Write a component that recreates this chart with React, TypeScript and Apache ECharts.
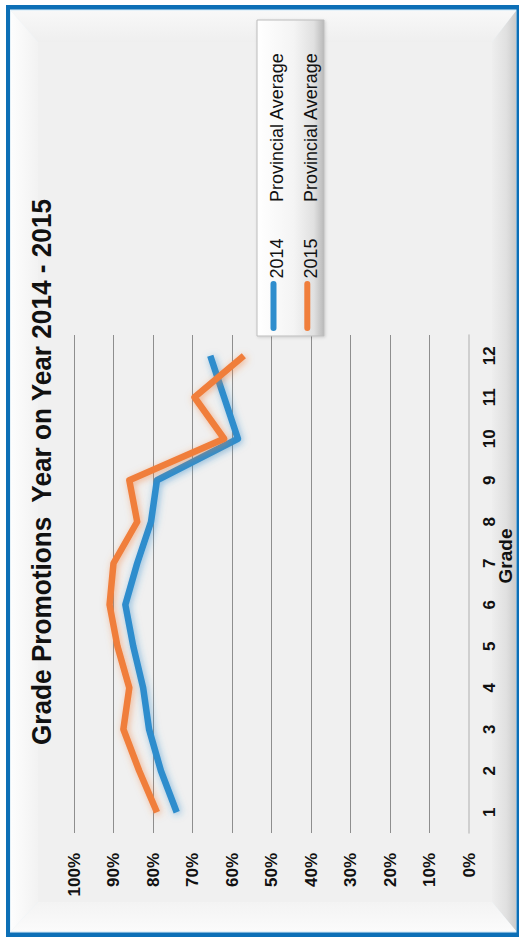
import React, { useEffect, useRef } from "react";
import * as echarts from "echarts";

// Grade categories and promotion rates (%) per year
const grades = ["1", "2", "3", "4", "5", "6", "7", "8", "9", "10", "11", "12"];
const promo2014 = [74, 78, 81, 82.5, 85, 87, 84, 80.5, 79, 58.5, 62, 65.5];
const promo2015 = [79, 83.5, 87.5, 86, 89, 91, 90, 84, 86, 62, 69.5, 57];
const seriesYears = ["2014", "2015"];
const seriesSuffix = "Provincial Average";
const titleText = "Grade Promotions  Year on Year 2014 - 2015";
const categoryAxisName = "Grade";
const percentMin = 0;
const percentMax = 100;
const percentStep = 10;

const W = 519;
const H = 944;
const FONT = "'Liberation Sans', Arial, Helvetica, sans-serif";
const BLUE = "#2e8dcd";
const ORANGE = "#f07e3b";
const UP = Math.PI / 2; // text reading bottom-to-top

const lin = (x2: number, y2: number, stops: [number, string][]) => ({
  type: "linear",
  x: 0,
  y: 0,
  x2,
  y2,
  colorStops: stops.map(([offset, color]) => ({ offset, color })),
});

function frameGraphics() {
  const o = { l: 11, t: 11, r: 516, b: 931 };
  const i = { l: 38, t: 42, r: 492, b: 902 };
  const z = -10;
  return [
    { type: "rect", z, shape: { x: 6, y: 5, width: 520, height: 932 }, style: { fill: "#0d6fb6" } },
    { type: "rect", z, shape: { x: 10, y: 9.5, width: 506.5, height: 923 }, style: { fill: "#e4f1f9" } },
    {
      type: "polygon", z,
      shape: { points: [[o.l, o.t], [o.r, o.t], [i.r, i.t], [i.l, i.t]] },
      style: { fill: lin(0, 1, [[0, "#f8f8f8"], [1, "#efefef"]]) },
    },
    {
      type: "polygon", z,
      shape: { points: [[o.l, o.t], [i.l, i.t], [i.l, i.b], [o.l, o.b]] },
      style: { fill: lin(1, 0, [[0, "#fdfdfd"], [1, "#f2f2f2"]]) },
    },
    {
      type: "polygon", z,
      shape: { points: [[o.r, o.t], [o.r, o.b], [i.r, i.b], [i.r, i.t]] },
      style: { fill: lin(1, 0, [[0, "#eeeeee"], [0.6, "#e0e0e0"], [1, "#cbcbcb"]]) },
    },
    {
      type: "polygon", z,
      shape: { points: [[o.l, o.b], [i.l, i.b], [i.r, i.b], [o.r, o.b]] },
      style: { fill: lin(0, 1, [[0, "#f3f3f3"], [1, "#fbfbfb"]]) },
    },
    { type: "rect", z, shape: { x: i.l, y: i.t, width: i.r - i.l, height: i.b - i.t }, style: { fill: "#f0f0f0" } },
  ];
}

function legendGraphics() {
  const colors = [BLUE, ORANGE];
  const cols = [273.5, 307.3];
  const items: any[] = [
    {
      type: "rect", z: 5,
      shape: { x: 257, y: 20, width: 67, height: 316 },
      style: {
        fill: lin(1, 0, [[0, "#ffffff"], [0.55, "#f4f4f4"], [0.85, "#e0e0e0"], [1, "#b9b9b9"]]),
        stroke: "#bcbcbc",
        lineWidth: 1,
        shadowBlur: 3,
        shadowColor: "rgba(0,0,0,0.15)",
        shadowOffsetX: 1,
        shadowOffsetY: 1,
      },
    },
  ];
  seriesYears.forEach((year, k) => {
    const cx = cols[k];
    items.push(
      {
        type: "line", z: 6,
        shape: { x1: cx, y1: 284, x2: cx, y2: 328 },
        style: { stroke: colors[k], lineWidth: 6, lineCap: "round" },
      },
      {
        type: "text", z: 6, x: cx + 3.2, y: 278.5, rotation: UP,
        style: {
          text: year, fontSize: 18, fontFamily: FONT, fill: "#111",
          align: "left", textAlign: "left", verticalAlign: "middle", textVerticalAlign: "middle",
        },
      },
      {
        type: "text", z: 6, x: cx + 3.2, y: 202, rotation: UP,
        style: {
          text: seriesSuffix, fontSize: 18, fontFamily: FONT, fill: "#111",
          align: "left", textAlign: "left", verticalAlign: "middle", textVerticalAlign: "middle",
        },
      }
    );
  });
  return items;
}

export default function App() {
  const ref = useRef<HTMLDivElement>(null);

  useEffect(() => {
    if (!ref.current) return;
    const chart = echarts.init(ref.current, undefined, { renderer: "svg" });

    const lineSeries = (name: string, values: number[], color: string, glow: string) => ({
      name: `${name} ${seriesSuffix}`,
      type: "line",
      data: values.map((v, idx) => [v, grades[idx]]),
      symbol: "none",
      z: 3,
      itemStyle: { color },
      lineStyle: {
        color,
        width: 6.5,
        join: "round",
        shadowBlur: 7,
        shadowColor: glow,
        shadowOffsetX: 1.5,
        shadowOffsetY: 1.5,
      },
    });

    chart.setOption({
      animation: false,
      backgroundColor: "#ffffff",
      textStyle: { fontFamily: FONT },
      grid: { left: 74, right: 50, top: 335, bottom: 111, containLabel: false },
      xAxis: {
        type: "value",
        min: percentMin,
        max: percentMax,
        interval: percentStep,
        inverse: true,
        position: "bottom",
        axisLine: { show: false },
        axisTick: { show: false },
        axisLabel: {
          rotate: 90,
          margin: 20,
          formatter: "{value}%",
          fontSize: 17,
          fontWeight: "bold",
          color: "#111",
          fontFamily: FONT,
        },
        splitLine: { show: true, showMinLine: false, lineStyle: { color: "#8e8e8e", width: 1 } },
      },
      yAxis: {
        type: "category",
        data: grades,
        position: "right",
        boundaryGap: true,
        axisLine: { show: true, onZero: false, lineStyle: { color: "#c4c4c4", width: 1.5 } },
        axisTick: { show: false },
        axisLabel: {
          rotate: 90,
          margin: 12,
          fontSize: 17,
          fontWeight: "bold",
          color: "#111",
          fontFamily: FONT,
        },
        splitLine: { show: false },
      },
      graphic: [
        ...frameGraphics(),
        {
          type: "text", z: 5, x: 42, y: 472, rotation: UP, scaleX: 0.97,
          style: {
            text: titleText, fontSize: 27, fontWeight: "bold", fontFamily: FONT, fill: "#111",
            align: "center", textAlign: "center", verticalAlign: "middle", textVerticalAlign: "middle",
          },
        },
        {
          type: "text", z: 5, x: 505, y: 556, rotation: UP,
          style: {
            text: categoryAxisName, fontSize: 19, fontWeight: "bold", fontFamily: FONT, fill: "#111",
            align: "center", textAlign: "center", verticalAlign: "middle", textVerticalAlign: "middle",
          },
        },
        ...legendGraphics(),
      ],
      series: [
        lineSeries(seriesYears[0], promo2014, BLUE, "rgba(46,141,205,0.55)"),
        lineSeries(seriesYears[1], promo2015, ORANGE, "rgba(240,126,59,0.55)"),
      ],
    });

    return () => chart.dispose();
  }, []);

  return (
    <div
      ref={ref}
      style={{ position: "absolute", left: 0, top: 0, width: W, height: H }}
    />
  );
}
